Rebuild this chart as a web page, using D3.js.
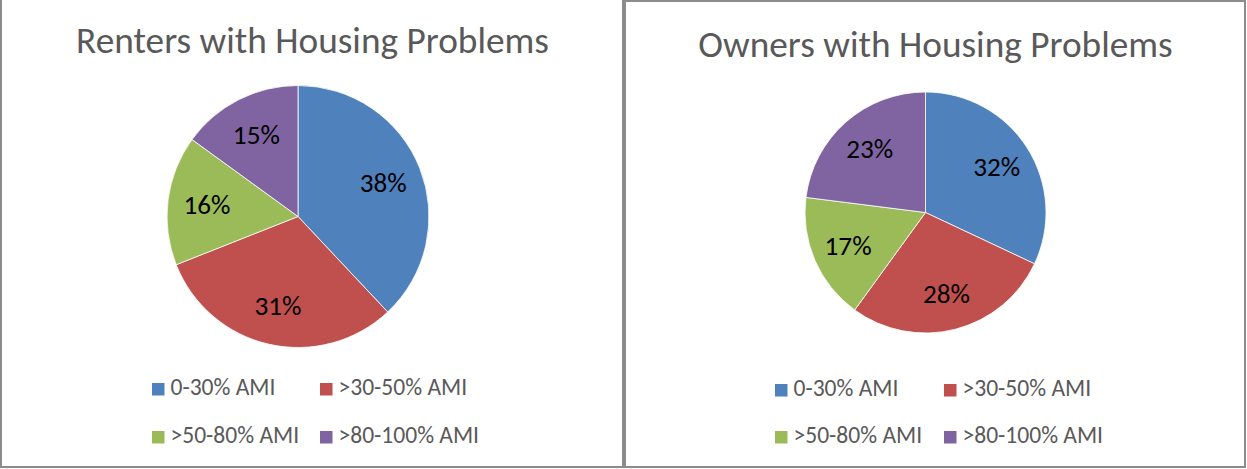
<!DOCTYPE html>
<html>
<head>
<meta charset="utf-8">
<script src="https://cdn.jsdelivr.net/npm/d3@7"></script>
<style>
  html, body { margin: 0; padding: 0; background: #fff; }
  svg { display: block; }
</style>
</head>
<body>
<svg id="chart" width="1247" height="469"></svg>
<script>
// Chart data
var categories = ['0-30% AMI', '>30-50% AMI', '>50-80% AMI', '>80-100% AMI'];
var renterShares = [38, 31, 16, 15];
var ownerShares = [32, 28, 17, 23];
var titles = ['Renters with Housing Problems', 'Owners with Housing Problems'];
var sliceColors = ['#4f81bd', '#c0504d', '#9bbb59', '#8064a2'];

var fontFamily = 'Calibri, Carlito, Lato, "Open Sans", sans-serif';

var panels = [
  {values: renterShares, title: titles[0], box: [1, -5, 622, 472],
   cx: 298, cy: 216.5, r: 131, titleX: 312.5, titleY: 53, titleW: 471,
   legX: [152, 320], legY: [395, 443]},
  {values: ownerShares, title: titles[1], box: [625, 1, 620, 466],
   cx: 925.5, cy: 212.5, r: 120.5, titleX: 935.5, titleY: 57, titleW: 473,
   legX: [775, 944], legY: [396, 443]}
];

var svg = d3.select('#chart');

// Work out a font size so that a string fills a given width
function fitSize(str, width, base) {
  var t = svg.append('text')
      .attr('font-family', fontFamily)
      .attr('font-size', base)
      .text(str);
  var len = t.node().getComputedTextLength();
  t.remove();
  return base * width / len;
}

var titleSize = fitSize(titles[0], 473, 30);
var legendSize = fitSize(categories[0], 105, 20);
var labelSize = fitSize('38%', 47, 24);

var pie = d3.pie().sort(null).value(function(d) { return d; });

panels.forEach(function(p) {
  var g = svg.append('g');

  // Panel border
  g.append('rect')
      .attr('x', p.box[0])
      .attr('y', p.box[1])
      .attr('width', p.box[2])
      .attr('height', p.box[3])
      .attr('fill', 'none')
      .attr('stroke', '#8c8c8c')
      .attr('stroke-width', 2);

  // Title
  g.append('text')
      .attr('x', p.titleX)
      .attr('y', p.titleY)
      .attr('text-anchor', 'middle')
      .attr('font-family', fontFamily)
      .attr('font-size', titleSize)
      .attr('fill', '#595959')
      .text(p.title);

  var arc = d3.arc().innerRadius(0).outerRadius(p.r);
  var labelArc = d3.arc().innerRadius(p.r * 0.7).outerRadius(p.r * 0.7);

  var pieG = g.append('g')
      .attr('transform', 'translate(' + p.cx + ',' + p.cy + ')');

  var slices = pie(p.values);

  pieG.selectAll('path')
      .data(slices)
      .enter().append('path')
      .attr('d', arc)
      .attr('fill', function(d, i) { return sliceColors[i]; })
      .attr('stroke', '#fff')
      .attr('stroke-width', 0.8);

  pieG.selectAll('text')
      .data(slices)
      .enter().append('text')
      .attr('transform', function(d) { return 'translate(' + labelArc.centroid(d) + ')'; })
      .attr('text-anchor', 'middle')
      .attr('dy', '0.33em')
      .attr('font-family', fontFamily)
      .attr('font-size', labelSize)
      .attr('fill', '#000')
      .text(function(d) { return d.data + '%'; });

  // Legend, two columns by two rows
  var leg = g.selectAll('g.legend')
      .data(categories)
      .enter().append('g')
      .attr('class', 'legend')
      .attr('transform', function(d, i) {
        return 'translate(' + p.legX[i % 2] + ',' + p.legY[Math.floor(i / 2)] + ')';
      });

  leg.append('rect')
      .attr('x', 0)
      .attr('y', -12)
      .attr('width', 12.5)
      .attr('height', 12.5)
      .attr('fill', function(d, i) { return sliceColors[i]; });

  leg.append('text')
      .attr('x', 18.5)
      .attr('y', 0)
      .attr('font-family', fontFamily)
      .attr('font-size', legendSize)
      .attr('fill', '#595959')
      .text(function(d) { return d; });
});
</script>
</body>
</html>
